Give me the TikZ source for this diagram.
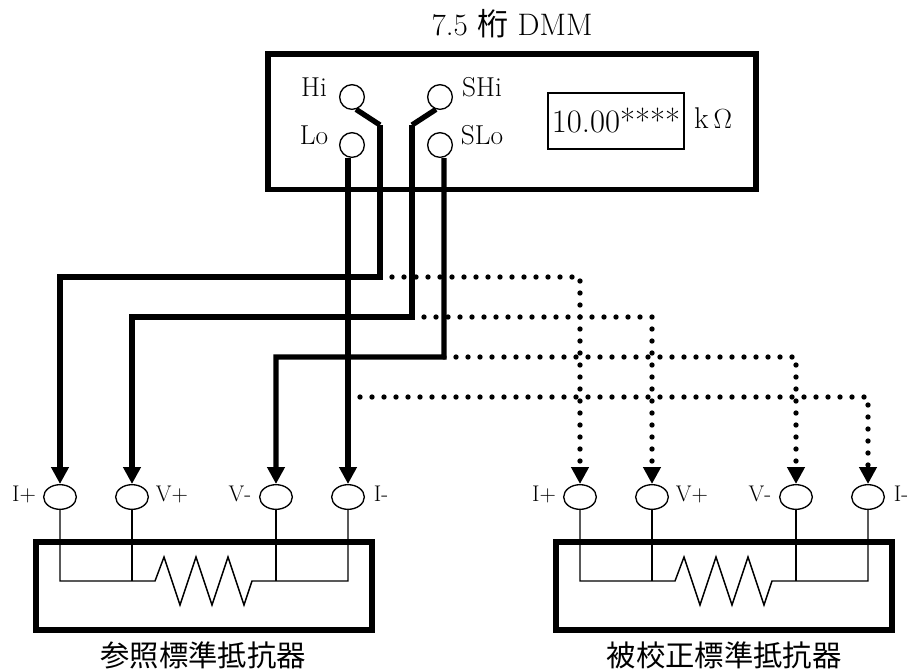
\documentclass[tikz,border=0pt]{standalone}
\usepackage{fontspec}
\setmainfont{Latin Modern Roman}
\newfontfamily\cjk{Noto Sans CJK JP}
\usetikzlibrary{arrows.meta}
\usetikzlibrary{shapes}
\tikzstyle{box}=[draw, line width=4.25pt, inner sep=0pt]
\tikzstyle{jack}=[draw, circle, line width=1pt, minimum size=18.5pt, inner sep=0pt]
\tikzstyle{port}=[draw, ellipse, line width=1pt, minimum width=24.5pt, minimum height=18.5pt, inner sep=0pt]
\tikzstyle{txt}=[inner sep=0pt, font={\fontsize{20.5}{22}\selectfont}]
\tikzstyle{porttxt}=[inner sep=0pt, font={\fontsize{17}{19}\selectfont}]
\tikzstyle{caption}=[inner sep=0pt, font={\cjk\fontsize{22}{24}\selectfont}]
\tikzstyle{lead}=[line width=1.1pt]
\tikzstyle{wire}=[line width=4pt]
\tikzstyle{link}=[wire, -{Triangle[length=12.75pt, width=12.75pt]}]
\tikzstyle{dotlink}=[link, line cap=round, dash pattern=on 0pt off 9pt]

\begin{document}
\begin{tikzpicture}[x=.75pt, y=-.75pt]

    \useasboundingbox (0, 0) rectangle (911, 669);

    % DMM
    \draw[box] (268, 54) rectangle (756, 189.5);
    \node[txt, font={\fontsize{23.3}{25}\selectfont}] (title) at (512, 24) {7.5 {\cjk 桁} DMM};

    \node[jack] (hi) at (352, 97) {};
    \node[jack] (lo) at (352, 145) {};
    \node[jack] (shi) at (440, 97) {};
    \node[jack] (slo) at (440, 145) {};
    \node[txt] (hilabel) at (314, 87) {Hi};
    \node[txt] (lolabel) at (314, 135) {Lo};
    \node[txt] (shilabel) at (482, 87) {SHi};
    \node[txt] (slolabel) at (482, 135) {SLo};

    \node[draw, line width=1pt, minimum width=102pt, minimum height=42pt, inner sep=0pt, font={\fontsize{24.5}{26}\selectfont}] (display) at (616, 121) {10.00****};
    \node[txt, font={\fontsize{22.5}{24}\selectfont}] (unit) at (713, 118) {k\,$\Omega$};

    % reference resistor
    \draw[box] (36, 542) rectangle (372, 630);
    \node[port] (ipa) at (60, 497) {};
    \node[port] (vpa) at (132, 497) {};
    \node[port] (vma) at (276, 497) {};
    \node[port] (ima) at (348, 497) {};
    \node[porttxt] (ipalabel) at (24, 494) {I+};
    \node[porttxt] (vpalabel) at (172, 494) {V+};
    \node[porttxt] (vmalabel) at (240, 494) {V-};
    \node[porttxt] (imalabel) at (381, 494) {I-};
    \node[caption] (refname) at (203, 655) {参照標準抵抗器};

    \coordinate (ajoin1) at (60, 581);
    \coordinate (ajoin2) at (132, 581);
    \coordinate (ajoin3) at (276, 581);
    \coordinate (ajoin4) at (348, 581);
    \draw[lead] (ipa) -- (ajoin1) -- (155, 581) -- (164, 557) -- (180, 605) -- (196, 557) -- (212, 605) -- (228, 557) -- (244, 605) -- (252, 581) -- (ajoin4) -- (ima);
    \draw[lead] (vpa) -- (ajoin2);
    \draw[lead] (vma) -- (ajoin3);

    % resistor under calibration
    \draw[box] (556, 542) rectangle (892, 630);
    \node[port] (ipb) at (580, 497) {};
    \node[port] (vpb) at (652, 497) {};
    \node[port] (vmb) at (796, 497) {};
    \node[port] (imb) at (868, 497) {};
    \node[porttxt] (ipblabel) at (544, 494) {I+};
    \node[porttxt] (vpblabel) at (692, 494) {V+};
    \node[porttxt] (vmblabel) at (760, 494) {V-};
    \node[porttxt] (imblabel) at (901, 494) {I-};
    \node[caption] (dutname) at (724, 655) {被校正標準抵抗器};

    \coordinate (bjoin1) at (580, 581);
    \coordinate (bjoin2) at (652, 581);
    \coordinate (bjoin3) at (796, 581);
    \coordinate (bjoin4) at (868, 581);
    \draw[lead] (ipb) -- (bjoin1) -- (675, 581) -- (684, 557) -- (700, 605) -- (716, 557) -- (732, 605) -- (748, 557) -- (764, 605) -- (772, 581) -- (bjoin4) -- (imb);
    \draw[lead] (vpb) -- (bjoin2);
    \draw[lead] (vmb) -- (bjoin3);

    % wiring
    \coordinate (hibend) at (380, 125);
    \coordinate (shibend) at (412, 125);
    \coordinate (hitap) at (380, 277);
    \coordinate (shitap) at (412, 317);
    \coordinate (slotap) at (444, 357);
    \coordinate (lotap) at (348, 397);

    \draw[dotlink] (hitap) -| (ipb);
    \draw[dotlink] (shitap) -| (vpb);
    \draw[dotlink] (slotap) -| (vmb);
    \draw[dotlink] (lotap) -| (imb);

    \draw[wire] (hi.-72) -- (hibend);
    \draw[wire] (shi.-108) -- (shibend);
    \draw[link] (hibend) -- (hitap) -| (ipa);
    \draw[link] (shibend) -- (shitap) -| (vpa);
    \draw[link] (slo.-72 |- slo.south) -- (slotap) -| (vma);
    \draw[link] (lo.south -| ima) -- (ima);

\end{tikzpicture}
\end{document}
